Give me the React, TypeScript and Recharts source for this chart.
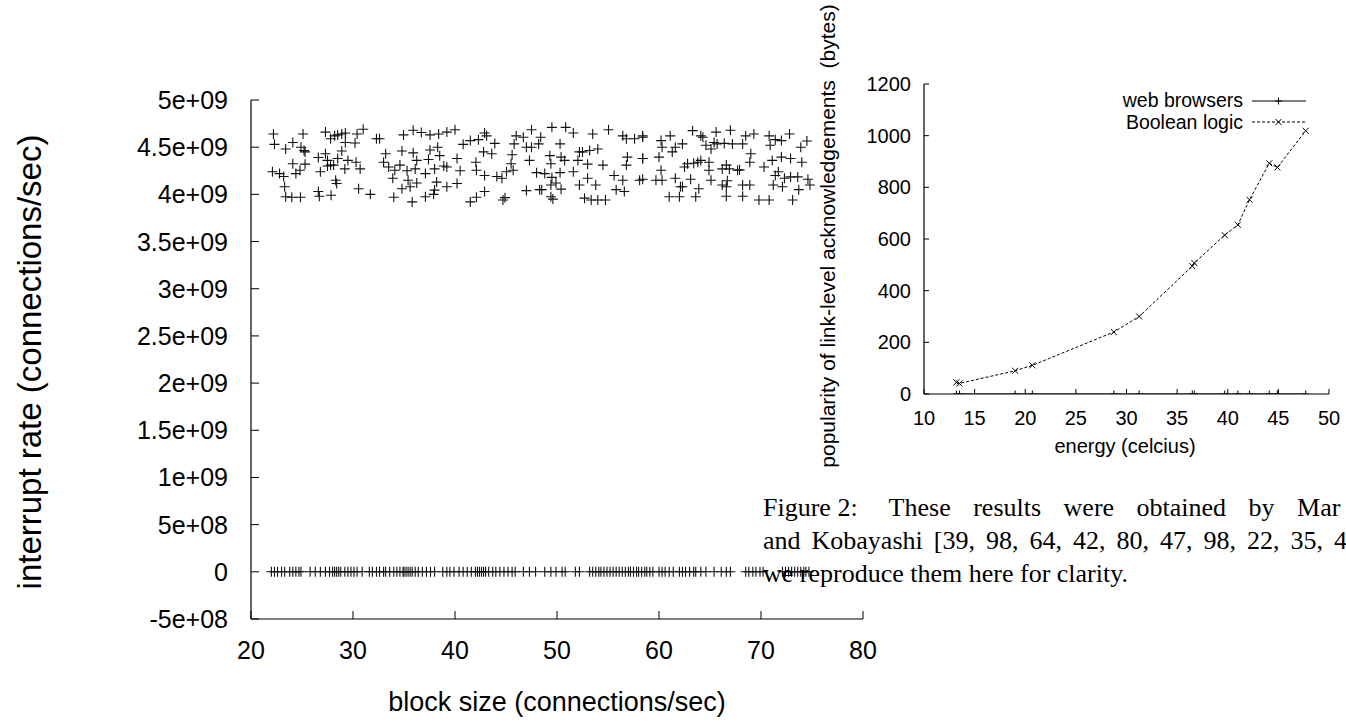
import React from 'react';
import { ScatterChart, Scatter, XAxis, YAxis, LineChart, Line } from 'recharts';

// ---------- Left chart data ----------
const cloudX = [
  22.2, 25.1, 27.3, 28.2, 28.5, 28.9, 29.25, 30.4, 31.0, 32.6, 34.95, 35.9, 36.7, 37.55, 38.4, 39.2, 40.0, 42.9, 46.0, 46.7,
  47.5, 48.4, 49.5, 50.85, 51.6, 53.5, 55.05, 56.45, 57.6, 58.4,
  22.3, 23.4, 24.1, 24.9, 25.3, 27.8, 29.25, 30.2, 32.3, 41.5, 42.3, 43.1, 43.9, 45.8, 47.5, 48.2, 50.3, 52.2, 53.2, 54.0, 56.8,
  25.2, 27.3, 28.9, 33.2, 34.8, 35.9, 37.55, 38.3, 38.5, 40.8, 42.8, 43.6, 45.6, 47.0, 49.3, 50.4, 52.5, 56.9,
  24.1, 25.3, 26.6, 27.5, 27.8, 28.5, 29.5, 30.3, 33.0, 33.5, 34.6, 36.25, 37.4, 38.9, 40.2, 42.05, 45.5, 47.3, 49.4, 50.75,
  52.05, 53.0, 54.5, 56.8, 58.4,
  22.1, 22.8, 23.2, 24.4, 24.8, 26.8, 27.5, 28.1, 29.2, 30.7, 34.1, 35.3, 36.1, 37.1, 38.0, 39.2, 40.5, 42.1, 42.9, 44.1,
  44.6, 45.05, 45.7, 48.0, 48.8, 49.5, 50.3, 51.6, 55.6, 56.45, 58.1,
  23.3, 28.3, 28.4, 30.55, 33.9, 35.4, 36.25, 34.8, 35.6, 38.2, 39.2, 40.2, 38.0, 47.0, 48.3, 49.4, 49.9, 50.4, 52.2, 53.0,
  53.8, 55.8, 56.6,
  23.4, 24.0, 24.85, 26.6, 26.7, 27.85, 31.7, 34.0, 35.8, 37.1, 37.9, 41.5, 42.1, 42.9, 44.7, 44.9, 48.5, 49.4, 49.6, 52.7,
  53.35, 54.0, 54.75,
  58.4, 58.4, 58.4, 60.2, 60.3, 61.1, 61.3, 61.6, 62.3, 60.0, 60.2, 59.7, 60.3, 61.6, 62.1, 63.1, 63.3, 64.1, 64.3, 64.6,
  65.1, 65.6, 65.4, 65.7, 66.4, 67.0, 67.2, 68.2, 68.5, 69.3, 70.8, 70.9, 71.4, 72.0, 72.8, 73.9, 74.5,
  62.5, 62.8, 63.4, 63.8, 64.1, 64.9, 66.2, 66.6, 66.9, 67.7, 67.9, 69.0, 68.9, 70.3, 71.1, 72.0, 72.9, 74.0,
  71.4, 71.7, 72.3, 72.9, 73.6, 74.6, 62.3, 63.9, 64.9, 66.2, 66.6, 68.2, 68.9, 71.2, 72.1, 73.7, 74.8,
  61.0, 62.0, 63.6, 66.6, 68.2, 69.8, 70.8, 73.1, 65.1, 66.7,
];
const cloudY = [
  4.64e9, 4.64e9, 4.66e9, 4.62e9, 4.63e9, 4.64e9, 4.65e9, 4.64e9, 4.69e9, 4.59e9, 4.63e9, 4.68e9, 4.655e9, 4.63e9, 4.64e9, 4.66e9, 4.685e9, 4.65e9, 4.62e9, 4.605e9,
  4.685e9, 4.605e9, 4.71e9, 4.71e9, 4.65e9, 4.64e9, 4.685e9, 4.62e9, 4.59e9, 4.62e9,
  4.53e9, 4.48e9, 4.55e9, 4.5e9, 4.45e9, 4.59e9, 4.55e9, 4.545e9, 4.59e9, 4.57e9, 4.58e9, 4.62e9, 4.54e9, 4.535e9, 4.5e9, 4.535e9, 4.535e9, 4.45e9, 4.465e9, 4.48e9, 4.59e9,
  4.465e9, 4.43e9, 4.46e9, 4.43e9, 4.46e9, 4.44e9, 4.47e9, 4.5e9, 4.41e9, 4.53e9, 4.45e9, 4.43e9, 4.42e9, 4.5e9, 4.41e9, 4.395e9, 4.45e9, 4.395e9,
  4.325e9, 4.32e9, 4.39e9, 4.36e9, 4.31e9, 4.38e9, 4.36e9, 4.34e9, 4.34e9, 4.29e9, 4.31e9, 4.36e9, 4.37e9, 4.3e9, 4.38e9, 4.34e9, 4.325e9, 4.36e9, 4.325e9, 4.36e9,
  4.36e9, 4.32e9, 4.31e9, 4.31e9, 4.38e9,
  4.24e9, 4.22e9, 4.19e9, 4.22e9, 4.255e9, 4.24e9, 4.3e9, 4.31e9, 4.27e9, 4.27e9, 4.255e9, 4.25e9, 4.27e9, 4.22e9, 4.27e9, 4.29e9, 4.25e9, 4.255e9, 4.2e9, 4.19e9,
  4.17e9, 4.24e9, 4.255e9, 4.23e9, 4.22e9, 4.18e9, 4.23e9, 4.24e9, 4.2e9, 4.15e9, 4.15e9,
  4.08e9, 4.15e9, 4.115e9, 4.06e9, 4.17e9, 4.15e9, 4.12e9, 4.06e9, 4.08e9, 4.13e9, 4.08e9, 4.115e9, 4.045e9, 4.04e9, 4.05e9, 4.1e9, 4.12e9, 4.055e9, 4.1e9, 4.17e9,
  4.1e9, 4.05e9, 4.03e9,
  3.975e9, 3.97e9, 3.97e9, 4.03e9, 3.98e9, 3.99e9, 4.0e9, 3.97e9, 3.92e9, 3.975e9, 4.0e9, 3.92e9, 3.97e9, 4.03e9, 3.94e9, 3.965e9, 4.05e9, 3.975e9, 3.95e9, 3.96e9,
  3.94e9, 3.94e9, 3.94e9,
  4.605e9, 4.38e9, 4.16e9, 4.57e9, 4.5e9, 4.62e9, 4.45e9, 4.5e9, 4.535e9, 4.395e9, 4.255e9, 4.15e9, 4.15e9, 4.17e9, 4.08e9, 4.16e9, 4.675e9, 4.62e9, 4.605e9, 4.52e9,
  4.48e9, 4.66e9, 4.55e9, 4.535e9, 4.54e9, 4.68e9, 4.535e9, 4.535e9, 4.62e9, 4.64e9, 4.62e9, 4.52e9, 4.58e9, 4.57e9, 4.64e9, 4.5e9, 4.565e9,
  4.29e9, 4.325e9, 4.33e9, 4.34e9, 4.36e9, 4.34e9, 4.27e9, 4.31e9, 4.27e9, 4.255e9, 4.26e9, 4.43e9, 4.34e9, 4.29e9, 4.36e9, 4.395e9, 4.38e9, 4.34e9,
  4.2e9, 4.24e9, 4.17e9, 4.185e9, 4.185e9, 4.16e9, 4.08e9, 4.06e9, 4.255e9, 4.1e9, 4.08e9, 4.1e9, 4.1e9, 4.1e9, 4.08e9, 4.05e9, 4.1e9,
  3.975e9, 3.975e9, 3.975e9, 3.98e9, 3.98e9, 3.94e9, 3.94e9, 3.94e9, 4.15e9, 4.145e9,
];
const baseX = [
  22.0, 22.3, 22.6, 23.0, 23.3, 23.8, 24.1, 24.4, 24.7, 24.9, 25.8, 26.3, 26.8, 27.3, 27.7, 28.0, 28.2, 28.4, 28.6, 28.8,
  29.2, 29.5, 29.8, 30.1, 30.4, 30.9, 31.6, 31.9, 32.3, 32.6, 33.0, 33.2, 33.6, 34.0, 34.3, 34.6, 34.9, 35.0, 35.2, 35.4,
  35.6, 35.8, 36.1, 36.4, 36.8, 37.2, 37.6, 38.0, 38.8, 39.2, 39.5, 39.9, 40.4, 40.8, 41.2, 41.6, 42.0, 42.2, 42.4, 42.6,
  42.8, 43.0, 43.3, 43.7, 44.0, 44.4, 44.8, 45.2, 45.6, 45.9, 46.7, 47.3, 47.9, 48.8, 49.4, 49.9, 50.5, 50.8, 51.8, 52.2,
  53.2, 53.5, 53.8, 54.1, 54.3, 54.6, 54.9, 55.2, 55.5, 55.8, 56.1, 56.4, 56.7, 57.0, 57.2, 57.5, 57.8, 58.0, 58.3, 58.6,
  58.8, 59.1, 59.4, 60.0, 60.3, 60.6, 61.0, 61.4, 62.0, 62.3, 62.6, 63.0, 63.4, 63.6, 64.1, 64.6, 65.4, 66.1, 66.6, 67.0,
  68.5, 68.8, 69.2, 69.5, 69.9, 70.2, 72.1, 72.4, 72.7, 73.0, 73.3, 73.6, 73.9, 74.2, 74.4, 74.7,
];
const baseY = baseX.map(() => 0);

const leftXTicks = [20, 30, 40, 50, 60, 70, 80];
const leftYTicks = [-5e8, 0, 5e8, 1e9, 1.5e9, 2e9, 2.5e9, 3e9, 3.5e9, 4e9, 4.5e9, 5e9];
const leftYTickLabels = ['-5e+08', '0', '5e+08', '1e+09', '1.5e+09', '2e+09', '2.5e+09', '3e+09', '3.5e+09', '4e+09', '4.5e+09', '5e+09'];

// ---------- Right chart data ----------
const energyX = [13.2, 13.5, 19.0, 20.7, 28.75, 31.25, 36.5, 36.7, 39.7, 41.0, 42.15, 44.1, 44.9, 47.7];
const booleanY = [45, 41, 90, 111, 240, 300, 495, 507, 615, 655, 752, 893, 877, 1019];
const browsersY = [0, 0, 0, 0, 0, 0, 0, 0, 0, 0, 0, 0, 0, 0];
const rightXTicks = [10, 15, 20, 25, 30, 35, 40, 45, 50];
const rightYTicks = [0, 200, 400, 600, 800, 1000, 1200];

const cloudData = cloudX.map((x, i) => ({ x, y: cloudY[i] }));
const baseData = baseX.map((x, i) => ({ x, y: baseY[i] }));
const booleanData = energyX.map((x, i) => ({ x, y: booleanY[i] }));
const browsersData = energyX.map((x, i) => ({ x, y: browsersY[i] }));

const SANS = '"Liberation Sans", Arial, Helvetica, sans-serif';
const SERIF = '"Liberation Serif", "Times New Roman", serif';
const INK = '#000';
const L_FONT = 25;
const R_FONT = 20;

// ---------- markers ----------
const plusShape = (props: any) => {
  const { cx, cy } = props;
  if (cx == null || cy == null) return <g />;
  const h = 5;
  return (
    <path d={`M${cx - h},${cy}H${cx + h}M${cx},${cy - h}V${cy + h}`} stroke="#111" strokeWidth={1.1} fill="none" />
  );
};

const smallPlus = (props: any) => {
  const { cx, cy, index } = props;
  const h = 3.5;
  return (
    <path key={`p${index}`} d={`M${cx - h},${cy}H${cx + h}M${cx},${cy - h}V${cy + h}`} stroke={INK} strokeWidth={1} fill="none" />
  );
};
const smallCross = (props: any) => {
  const { cx, cy, index } = props;
  const h = 3;
  return (
    <path key={`c${index}`} d={`M${cx - h},${cy - h}L${cx + h},${cy + h}M${cx - h},${cy + h}L${cx + h},${cy - h}`} stroke={INK} strokeWidth={1} fill="none" />
  );
};

// ---------- tick renderers ----------
const makeLeftTick = (margin: number, len: number, labelFor: (v: number) => string, fs: number) => (props: any) => {
  const { x, y, payload } = props;
  return (
    <g>
      <line x1={x + margin} x2={x + margin + len} y1={y} y2={y} stroke={INK} strokeWidth={1} />
      <text x={x} y={y} textAnchor="end" dominantBaseline="central" fontSize={fs} fontFamily={SANS} fill={INK}>
        {labelFor(payload.value)}
      </text>
    </g>
  );
};
const makeBottomTick = (margin: number, len: number, fs: number) => (props: any) => {
  const { x, y, payload } = props;
  return (
    <g>
      <line x1={x} x2={x} y1={y - margin} y2={y - margin - len} stroke={INK} strokeWidth={1} />
      <text x={x} y={y} textAnchor="middle" dominantBaseline="central" fontSize={fs} fontFamily={SANS} fill={INK}>
        {String(payload.value)}
      </text>
    </g>
  );
};
const makeTopTick = (len: number) => (props: any) => {
  const { x, y } = props;
  return <line x1={x} x2={x} y1={y} y2={y + len} stroke={INK} strokeWidth={1} />;
};
const makeRightTick = (len: number) => (props: any) => {
  const { x, y } = props;
  return <line x1={x} x2={x - len} y1={y} y2={y} stroke={INK} strokeWidth={1} />;
};

const leftYLabel = (v: number) => {
  const i = leftYTicks.indexOf(v);
  return i >= 0 ? leftYTickLabels[i] : String(v);
};

const LeftY = makeLeftTick(23, 8, leftYLabel, L_FONT);
const LeftX = makeBottomTick(31, 8, L_FONT);
const LeftTop = makeTopTick(8);
const LeftRight = makeRightTick(8);
const RightY = makeLeftTick(13, 5, (v) => String(v), R_FONT);
const RightX = makeBottomTick(24, 5, R_FONT);
const RightTop = makeTopTick(5);
const RightRight = makeRightTick(5);

const axisLine = { stroke: INK, strokeWidth: 1.2 };

const legendText: React.CSSProperties = {
  position: 'absolute',
  left: 1043,
  width: 200,
  height: 21,
  lineHeight: '21px',
  textAlign: 'right',
  fontSize: 19.5,
  whiteSpace: 'nowrap',
};

const captionLine: React.CSSProperties = {
  position: 'absolute',
  left: 763,
  fontFamily: SERIF,
  fontSize: 26,
  lineHeight: '33px',
  height: 33,
  whiteSpace: 'nowrap',
};

export default function App() {
  return (
    <div
      style={{
        position: 'absolute',
        left: 0,
        top: 0,
        width: 1346,
        height: 723,
        overflow: 'hidden',
        background: '#fff',
        fontFamily: SANS,
        color: INK,
      }}
    >
      {/* Left scatter chart */}
      <div style={{ position: 'absolute', left: 0, top: 0 }}>
        <ScatterChart width={900} height={723} margin={{ top: 100, right: 37, bottom: 0, left: 0 }}>
          <XAxis
            dataKey="x"
            type="number"
            domain={[20, 80]}
            ticks={leftXTicks}
            interval={0}
            height={104}
            tickSize={0}
            tickMargin={31}
            tickLine={false}
            axisLine={axisLine}
            tick={LeftX}
            allowDataOverflow
          />
          <XAxis
            xAxisId="top"
            orientation="top"
            type="number"
            domain={[20, 80]}
            ticks={leftXTicks}
            interval={0}
            height={0}
            tickSize={0}
            tickMargin={0}
            tickLine={false}
            axisLine={axisLine}
            tick={LeftTop}
            allowDataOverflow
          />
          <YAxis
            dataKey="y"
            type="number"
            domain={[-5e8, 5e9]}
            ticks={leftYTicks}
            interval={0}
            width={251}
            tickSize={0}
            tickMargin={23}
            tickLine={false}
            axisLine={axisLine}
            tick={LeftY}
            allowDataOverflow
          />
          <YAxis
            yAxisId="right"
            orientation="right"
            type="number"
            domain={[-5e8, 5e9]}
            ticks={leftYTicks}
            interval={0}
            width={0}
            tickSize={0}
            tickMargin={0}
            tickLine={false}
            axisLine={axisLine}
            tick={LeftRight}
            allowDataOverflow
          />
          <Scatter data={cloudData} shape={plusShape} isAnimationActive={false} />
          <Scatter data={baseData} shape={plusShape} isAnimationActive={false} />
        </ScatterChart>
      </div>

      {/* Right line chart */}
      <div style={{ position: 'absolute', left: 840, top: 0 }}>
        <LineChart width={506} height={480} margin={{ top: 84, right: 17, bottom: 0, left: 0 }}>
          <XAxis
            dataKey="x"
            type="number"
            domain={[10, 50]}
            ticks={rightXTicks}
            interval={0}
            height={86}
            tickSize={0}
            tickMargin={24}
            tickLine={false}
            axisLine={axisLine}
            tick={RightX}
            allowDataOverflow
          />
          <XAxis
            xAxisId="top"
            orientation="top"
            type="number"
            domain={[10, 50]}
            ticks={rightXTicks}
            interval={0}
            height={0}
            tickSize={0}
            tickMargin={0}
            tickLine={false}
            axisLine={axisLine}
            tick={RightTop}
            allowDataOverflow
          />
          <YAxis
            type="number"
            domain={[0, 1200]}
            ticks={rightYTicks}
            interval={0}
            width={84}
            tickSize={0}
            tickMargin={13}
            tickLine={false}
            axisLine={axisLine}
            tick={RightY}
            allowDataOverflow
          />
          <YAxis
            yAxisId="right"
            orientation="right"
            type="number"
            domain={[0, 1200]}
            ticks={rightYTicks}
            interval={0}
            width={0}
            tickSize={0}
            tickMargin={0}
            tickLine={false}
            axisLine={axisLine}
            tick={RightRight}
            allowDataOverflow
          />
          <Line
            data={browsersData}
            dataKey="y"
            type="linear"
            stroke={INK}
            strokeWidth={1}
            dot={smallPlus}
            activeDot={false}
            isAnimationActive={false}
          />
          <Line
            data={booleanData}
            dataKey="y"
            type="linear"
            stroke={INK}
            strokeWidth={1}
            strokeDasharray="3 2"
            dot={smallCross}
            activeDot={false}
            isAnimationActive={false}
          />
        </LineChart>
      </div>

      {/* Legend of right chart */}
      <div style={{ ...legendText, top: 90 }}>web browsers</div>
      <svg style={{ position: 'absolute', left: 1250, top: 90 }} width={58} height={21}>
        <line x1={2} x2={56} y1={11} y2={11} stroke="#555" strokeWidth={1.6} />
        <path d="M28.5,7.5V14.5M25,11H32" stroke={INK} strokeWidth={1} />
      </svg>
      <div style={{ ...legendText, top: 112 }}>Boolean logic</div>
      <svg style={{ position: 'absolute', left: 1250, top: 112 }} width={58} height={21}>
        <line x1={2} x2={56} y1={10} y2={10} stroke={INK} strokeWidth={1} strokeDasharray="3 2" />
        <path d="M25.5,7L31.5,13M25.5,13L31.5,7" stroke={INK} strokeWidth={1} />
      </svg>

      {/* Axis titles */}
      <div style={{ position: 'absolute', left: 30, top: 362, transform: 'translate(-50%, -50%) rotate(-90deg)', fontSize: 33, whiteSpace: 'nowrap' }}>
        interrupt rate (connections/sec)
      </div>
      <div style={{ position: 'absolute', left: 557, top: 702, transform: 'translate(-50%, -50%)', fontSize: 27, whiteSpace: 'nowrap' }}>
        block size (connections/sec)
      </div>
      <div style={{ position: 'absolute', left: 828, top: 236, transform: 'translate(-50%, -50%) rotate(-90deg)', fontSize: 21, whiteSpace: 'pre' }}>
        {'popularity of link-level acknowledgements  (bytes)'}
      </div>
      <div style={{ position: 'absolute', left: 1125, top: 446, transform: 'translate(-50%, -50%)', fontSize: R_FONT, whiteSpace: 'nowrap' }}>
        energy (celcius)
      </div>

      {/* Caption (justified lines) */}
      <div style={{ ...captionLine, top: 491 }}>
        <span>Figure 2:</span>
        <span style={{ marginLeft: 31, wordSpacing: 16 }}>These results were obtained by Mar</span>
      </div>
      <div style={{ ...captionLine, top: 524, wordSpacing: 4.5 }}>
        and Kobayashi [39, 98, 64, 42, 80, 47, 98, 22, 35, 4
      </div>
      <div style={{ ...captionLine, top: 557 }}>we reproduce them here for clarity.</div>
    </div>
  );
}
